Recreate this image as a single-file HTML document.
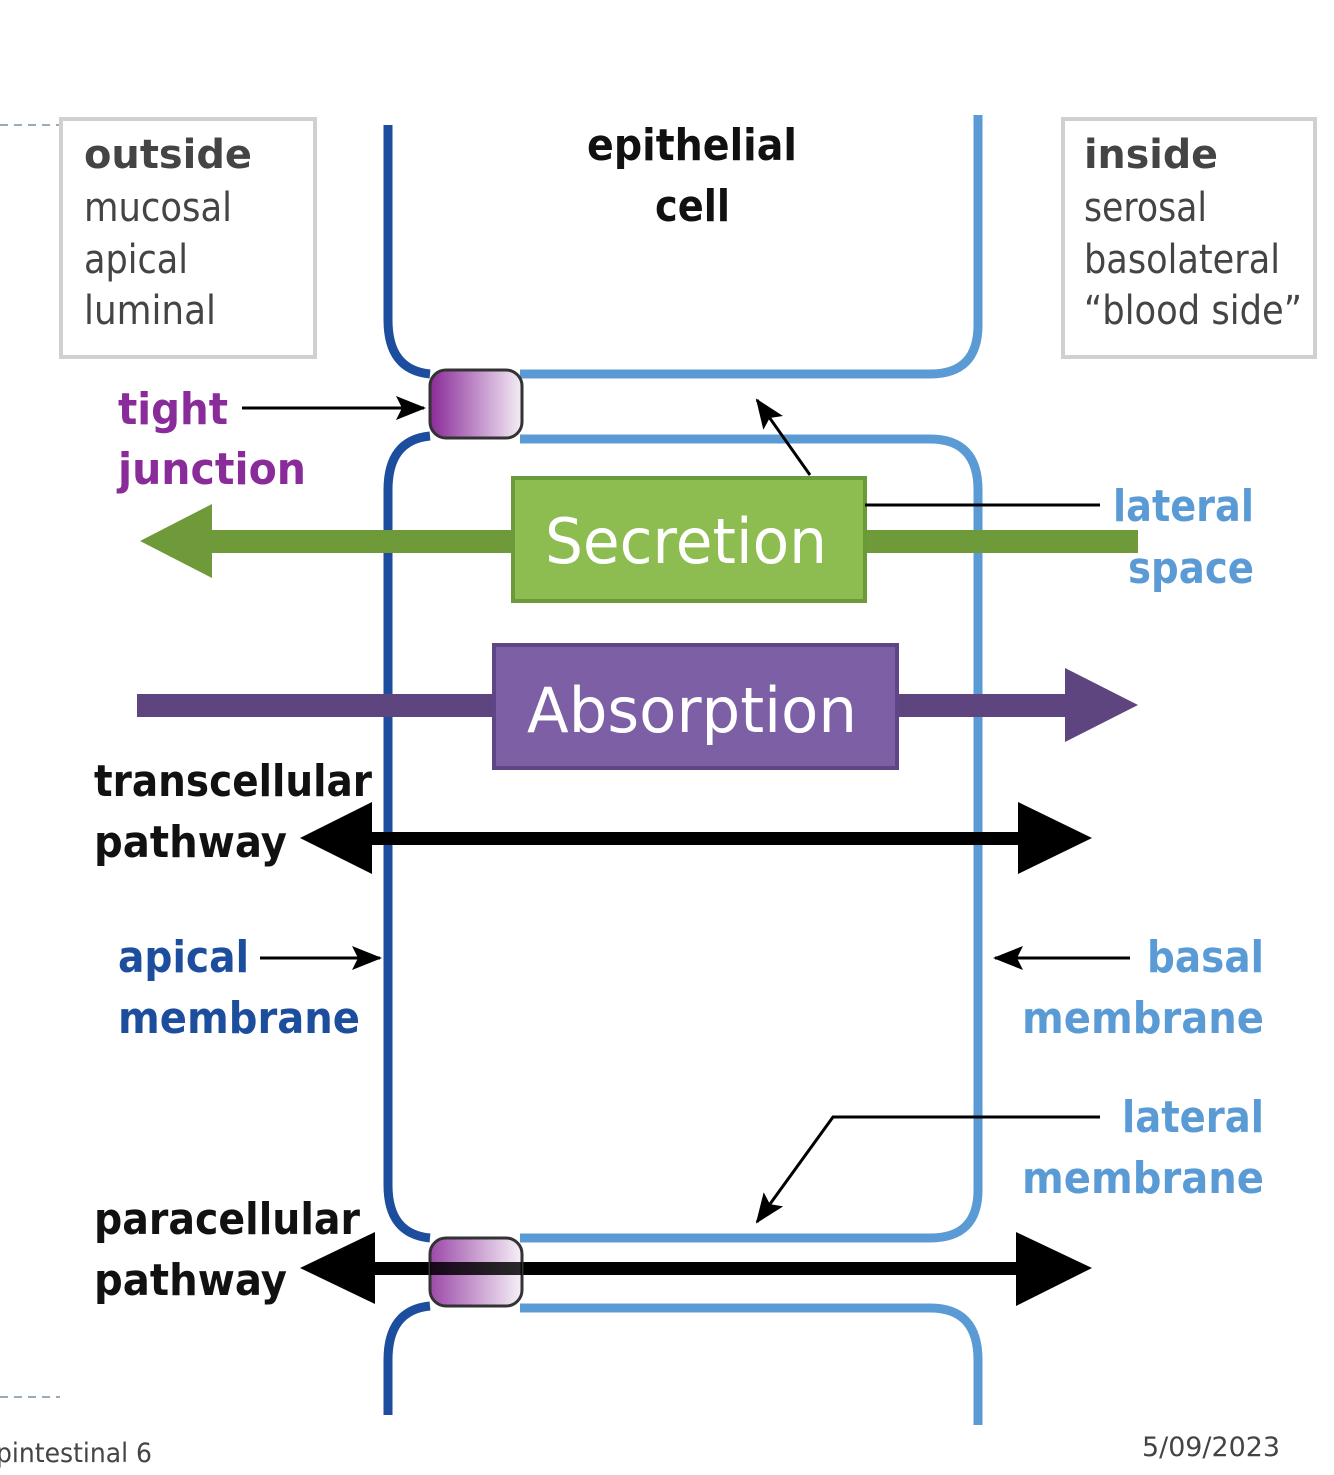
<!DOCTYPE html>
<html><head><meta charset="utf-8"><style>
html,body{margin:0;padding:0;background:#fff;}
svg{display:block}
text{font-family:"DejaVu Sans","Liberation Sans",sans-serif;}
</style></head><body>
<svg width="1334" height="1475" viewBox="0 0 1334 1475" xmlns="http://www.w3.org/2000/svg">
<defs>
<linearGradient id="jg" x1="0" x2="1" y1="0" y2="0">
<stop offset="0" stop-color="#8a2a98"/><stop offset="1" stop-color="#f4eef6"/>
</linearGradient>
<marker id="ah2" markerWidth="30" markerHeight="24" refX="28" refY="12" orient="auto" markerUnits="userSpaceOnUse">
<path d="M0,0 L30,12 L0,24 L6,12 z" fill="#000"/></marker>
</defs>
<line x1="0" y1="125" x2="60" y2="125" stroke="#9ab" stroke-width="2" stroke-dasharray="8,6"/>
<line x1="0" y1="1397" x2="60" y2="1397" stroke="#9ab" stroke-width="2" stroke-dasharray="8,6"/>
<rect x="61" y="119" width="254" height="238" fill="#fff" stroke="#d0d0d0" stroke-width="4"/>
<rect x="1063" y="119" width="252" height="238" fill="#fff" stroke="#d0d0d0" stroke-width="4"/>
<g font-size="40" fill="#444" lengthAdjust="spacingAndGlyphs">
<text x="84" y="168" font-weight="bold" textLength="168" lengthAdjust="spacingAndGlyphs">outside</text>
<text x="84" y="221" textLength="148" lengthAdjust="spacingAndGlyphs">mucosal</text>
<text x="84" y="273" textLength="104" lengthAdjust="spacingAndGlyphs">apical</text>
<text x="84" y="324" textLength="132" lengthAdjust="spacingAndGlyphs">luminal</text>
<text x="1084" y="168" font-weight="bold" textLength="134" lengthAdjust="spacingAndGlyphs">inside</text>
<text x="1084" y="221" textLength="123" lengthAdjust="spacingAndGlyphs">serosal</text>
<text x="1084" y="273" textLength="196" lengthAdjust="spacingAndGlyphs">basolateral</text>
<text x="1084" y="324" textLength="218" lengthAdjust="spacingAndGlyphs">“blood side”</text>
</g>
<text x="587" y="160" font-size="44" font-weight="bold" fill="#111" textLength="210" lengthAdjust="spacingAndGlyphs">epithelial</text>
<text x="655" y="221" font-size="44" font-weight="bold" fill="#111" textLength="75" lengthAdjust="spacingAndGlyphs">cell</text>
<g fill="none" stroke-width="9">
<path d="M388,125 V320 Q388,370 430,374" stroke="#1d4e9e"/>
<path d="M978,115 V325 Q978,374 930,374 H520" stroke="#5b9bd5"/>
<path d="M430,436 Q388,440 388,490 V1185 Q388,1234 430,1238" stroke="#1d4e9e"/>
<path d="M520,439 H930 Q978,439 978,490 V1190 Q978,1238 930,1238 H520" stroke="#5b9bd5"/>
<path d="M430,1306 Q388,1310 388,1360 V1415" stroke="#1d4e9e"/>
<path d="M520,1308 H930 Q978,1308 978,1360 V1425" stroke="#5b9bd5"/>
</g>
<rect x="430" y="370" width="92" height="68" rx="16" fill="url(#jg)" stroke="#333" stroke-width="3"/>
<rect x="200" y="530" width="938" height="23" fill="#6f9a3a"/>
<path d="M140,541 L212,504 L212,578 z" fill="#6f9a3a"/>
<rect x="513" y="478" width="352" height="123" fill="#8dbd50" stroke="#6a9a3a" stroke-width="4"/>
<text x="545" y="563" font-size="62" fill="#fff" textLength="282" lengthAdjust="spacingAndGlyphs">Secretion</text>
<rect x="137" y="694" width="935" height="23" fill="#5e4580"/>
<path d="M1138,705 L1065,668 L1065,742 z" fill="#5e4580"/>
<rect x="494" y="645" width="403" height="123" fill="#7d5fa5" stroke="#5e4585" stroke-width="4"/>
<text x="527" y="732" font-size="62" fill="#fff" textLength="330" lengthAdjust="spacingAndGlyphs">Absorption</text>
<rect x="365" y="832" width="660" height="13" fill="#000"/>
<path d="M300,838 L372,802 L372,874 z M1092,838 L1018,802 L1018,874 z" fill="#000"/>
<rect x="365" y="1262" width="660" height="13" fill="#000"/>
<path d="M300,1268 L375,1232 L375,1304 z M1092,1268 L1016,1232 L1016,1306 z" fill="#000"/>
<rect x="430" y="1238" width="92" height="68" rx="16" fill="url(#jg)" fill-opacity="0.85" stroke="#333" stroke-width="3"/>
<rect x="430" y="1262" width="92" height="13" fill="#000" opacity="0.8"/>
<g stroke="#000" stroke-width="3" fill="none">
<line x1="242" y1="408" x2="424" y2="408" marker-end="url(#ah2)"/>
<line x1="810" y1="475" x2="757" y2="400" marker-end="url(#ah2)"/>
<line x1="865" y1="505" x2="1100" y2="505"/>
<line x1="260" y1="958" x2="380" y2="958" marker-end="url(#ah2)"/>
<line x1="1130" y1="958" x2="995" y2="958" marker-end="url(#ah2)"/>
<polyline points="1100,1117 833,1117 757,1222" marker-end="url(#ah2)"/>
</g>
<g font-size="44" font-weight="bold">
<text x="118" y="424" fill="#8a2b9a" textLength="110" lengthAdjust="spacingAndGlyphs">tight</text>
<text x="118" y="484" fill="#8a2b9a" textLength="188" lengthAdjust="spacingAndGlyphs">junction</text>
<text x="1113" y="521" fill="#5b9bd5" textLength="141" lengthAdjust="spacingAndGlyphs">lateral</text>
<text x="1128" y="583" fill="#5b9bd5" textLength="126" lengthAdjust="spacingAndGlyphs">space</text>
<text x="94" y="796" fill="#111" textLength="278" lengthAdjust="spacingAndGlyphs">transcellular</text>
<text x="94" y="857" fill="#111" textLength="193" lengthAdjust="spacingAndGlyphs">pathway</text>
<text x="118" y="972" fill="#1d4e9e" textLength="131" lengthAdjust="spacingAndGlyphs">apical</text>
<text x="118" y="1033" fill="#1d4e9e" textLength="242" lengthAdjust="spacingAndGlyphs">membrane</text>
<text x="1147" y="972" fill="#5b9bd5" textLength="117" lengthAdjust="spacingAndGlyphs">basal</text>
<text x="1022" y="1033" fill="#5b9bd5" textLength="242" lengthAdjust="spacingAndGlyphs">membrane</text>
<text x="1122" y="1132" fill="#5b9bd5" textLength="142" lengthAdjust="spacingAndGlyphs">lateral</text>
<text x="1022" y="1193" fill="#5b9bd5" textLength="242" lengthAdjust="spacingAndGlyphs">membrane</text>
<text x="94" y="1234" fill="#111" textLength="266" lengthAdjust="spacingAndGlyphs">paracellular</text>
<text x="94" y="1295" fill="#111" textLength="193" lengthAdjust="spacingAndGlyphs">pathway</text>
</g>
<text x="-4" y="1462" font-size="27" fill="#444" font-family="Liberation Sans" textLength="156" lengthAdjust="spacingAndGlyphs">pintestinal 6</text>
<text x="1142" y="1456" font-size="27" fill="#444" font-family="Liberation Sans" textLength="138" lengthAdjust="spacingAndGlyphs">5/09/2023</text>
</svg>
</body></html>
